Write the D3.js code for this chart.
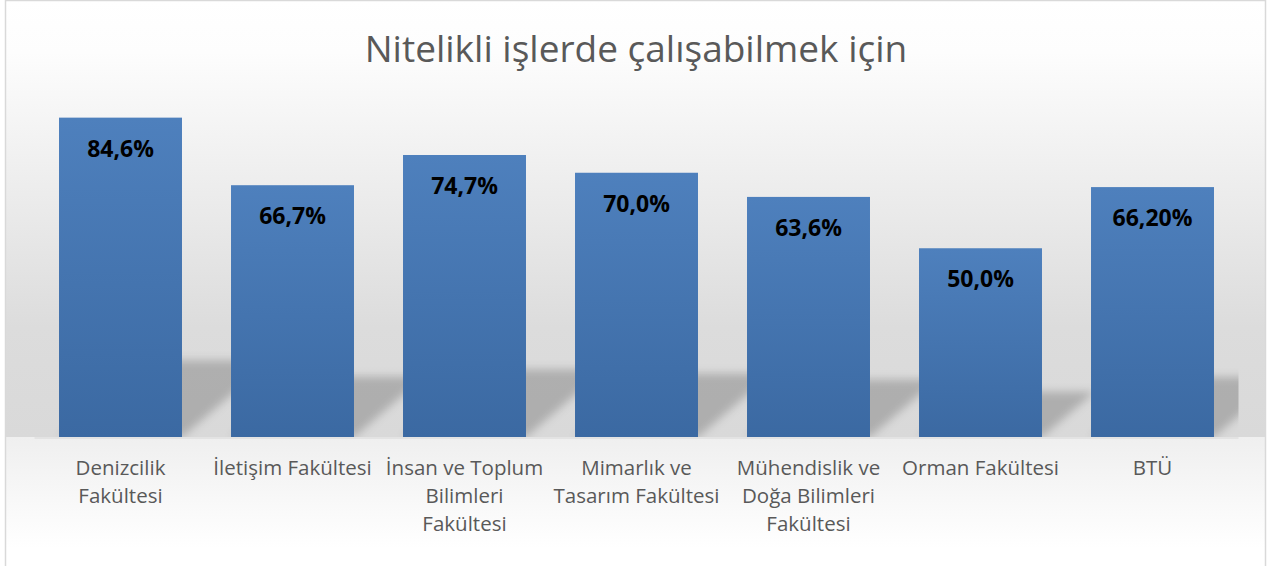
<!DOCTYPE html>
<html lang="tr">
<head>
<meta charset="utf-8">
<title>Nitelikli işlerde çalışabilmek için</title>
<script src="https://d3js.org/d3.v7.min.js"></script>
<style>
  html, body { margin: 0; padding: 0; background: #fff; }
  svg { display: block; }
  text { font-family: "Open Sans", "Noto Sans", sans-serif; }
</style>
</head>
<body>
<script>
// veriler
var categories = ["Denizcilik Fakültesi", "İletişim Fakültesi", "İnsan ve Toplum Bilimleri Fakültesi",
                  "Mimarlık ve Tasarım Fakültesi", "Mühendislik ve Doğa Bilimleri Fakültesi",
                  "Orman Fakültesi", "BTÜ"];
// eksen etiketleri (Excel'deki satır kırılımları)
var tickLines = [["Denizcilik", "Fakültesi"], ["İletişim Fakültesi"], ["İnsan ve Toplum", "Bilimleri", "Fakültesi"],
                 ["Mimarlık ve", "Tasarım Fakültesi"], ["Mühendislik ve", "Doğa Bilimleri", "Fakültesi"],
                 ["Orman Fakültesi"], ["BTÜ"]];
var values = [84.6, 66.7, 74.7, 70.0, 63.6, 50.0, 66.2];
var valueLabels = ["84,6%", "66,7%", "74,7%", "70,0%", "63,6%", "50,0%", "66,20%"];
var title = "Nitelikli işlerde çalışabilmek için";

var width = 1271, height = 566;
var baseY = 437;

var svg = d3.select("body").append("svg").attr("width", width).attr("height", height);
var defs = svg.append("defs");

// arka plan gradyanları
var bg = defs.append("linearGradient").attr("id", "bg").attr("x1", 0).attr("y1", 0).attr("x2", 0).attr("y2", 1);
bg.append("stop").attr("offset", "0%").attr("stop-color", "#ffffff");
bg.append("stop").attr("offset", "12%").attr("stop-color", "#fdfdfd");
bg.append("stop").attr("offset", "75%").attr("stop-color", "#dcdcdc");
bg.append("stop").attr("offset", "100%").attr("stop-color", "#d9d9d9");

var bg2 = defs.append("linearGradient").attr("id", "bg2").attr("x1", 0).attr("y1", 0).attr("x2", 0).attr("y2", 1);
bg2.append("stop").attr("offset", "0%").attr("stop-color", "#efefef");
bg2.append("stop").attr("offset", "80%").attr("stop-color", "#ffffff");

var barGrad = defs.append("linearGradient").attr("id", "barGrad").attr("x1", 0).attr("y1", 0).attr("x2", 0).attr("y2", 1);
barGrad.append("stop").attr("offset", "0%").attr("stop-color", "#4e80bd");
barGrad.append("stop").attr("offset", "100%").attr("stop-color", "#3b69a2");

defs.append("filter").attr("id", "blur").attr("x", "-20%").attr("y", "-20%").attr("width", "140%").attr("height", "140%")
  .append("feGaussianBlur").attr("stdDeviation", 4);

defs.append("clipPath").attr("id", "plotClip")
  .append("rect").attr("x", 34.5).attr("y", 40).attr("width", 1204).attr("height", baseY - 40);

svg.append("rect").attr("x", 5).attr("y", 0).attr("width", 1261).attr("height", baseY)
  .attr("fill", "url(#bg)");
svg.append("rect").attr("x", 5).attr("y", baseY).attr("width", 1261).attr("height", height - baseY + 10)
  .attr("fill", "url(#bg2)");
svg.append("rect").attr("x", 5.5).attr("y", 0.5).attr("width", 1260).attr("height", height + 10)
  .attr("fill", "none").attr("stroke", "#d9d9d9").attr("stroke-width", 1.5);

// ölçekler
var x = d3.scaleBand().domain(categories).range([34.5, 1238.5]).paddingInner(0.285).paddingOuter(0.1425);
var y = d3.scaleLinear().domain([0, 100]).range([baseY, 59.5]);

var data = categories.map(function(c, i){ return {cat: c, v: values[i], label: valueLabels[i], lines: tickLines[i]}; });

// perspektif gölge
svg.append("g").attr("clip-path", "url(#plotClip)")
  .selectAll("path").data(data).enter().append("path")
  .attr("d", function(d){
    var x0 = x(d.cat), x1 = x0 + x.bandwidth();
    var h = (baseY - y(d.v)) * 0.24, dx = h * 1.17;
    return "M" + x0 + "," + baseY + "L" + x1 + "," + baseY + "L" + (x1 + dx) + "," + (baseY - h) +
           "L" + (x0 + dx) + "," + (baseY - h) + "Z";
  })
  .attr("fill", "#000").attr("fill-opacity", 0.2).attr("filter", "url(#blur)");

svg.append("rect").attr("x", 34.5).attr("y", baseY).attr("width", 1204).attr("height", 2).attr("fill", "#e3e3e3");

// çubuklar
svg.append("g").selectAll("rect").data(data).enter().append("rect")
  .attr("x", function(d){ return x(d.cat); })
  .attr("y", function(d){ return y(d.v); })
  .attr("width", x.bandwidth())
  .attr("height", function(d){ return baseY - y(d.v); })
  .attr("fill", "url(#barGrad)");

// değer etiketleri
svg.append("g").selectAll("text").data(data).enter().append("text")
  .attr("x", function(d){ return x(d.cat) + x.bandwidth() / 2; })
  .attr("y", function(d){ return y(d.v) + 39; })
  .attr("text-anchor", "middle")
  .style("font-size", "23px").style("font-weight", "bold").style("fill", "#000")
  .text(function(d){ return d.label; });

// kategori etiketleri
var ticks = svg.append("g").selectAll("text").data(data).enter().append("text")
  .attr("text-anchor", "middle")
  .style("font-size", "20.5px").style("fill", "#595959");
ticks.selectAll("tspan").data(function(d){
    return d.lines.map(function(l){ return {cat: d.cat, t: l}; });
  }).enter().append("tspan")
  .attr("x", function(d){ return x(d.cat) + x.bandwidth() / 2; })
  .attr("y", function(d, i){ return 475 + i * 28; })
  .text(function(d){ return d.t; });

// başlık
svg.append("text").attr("x", 636).attr("y", 62).attr("text-anchor", "middle")
  .style("font-size", "37px").style("fill", "#595959")
  .text(title);
</script>
</body>
</html>
